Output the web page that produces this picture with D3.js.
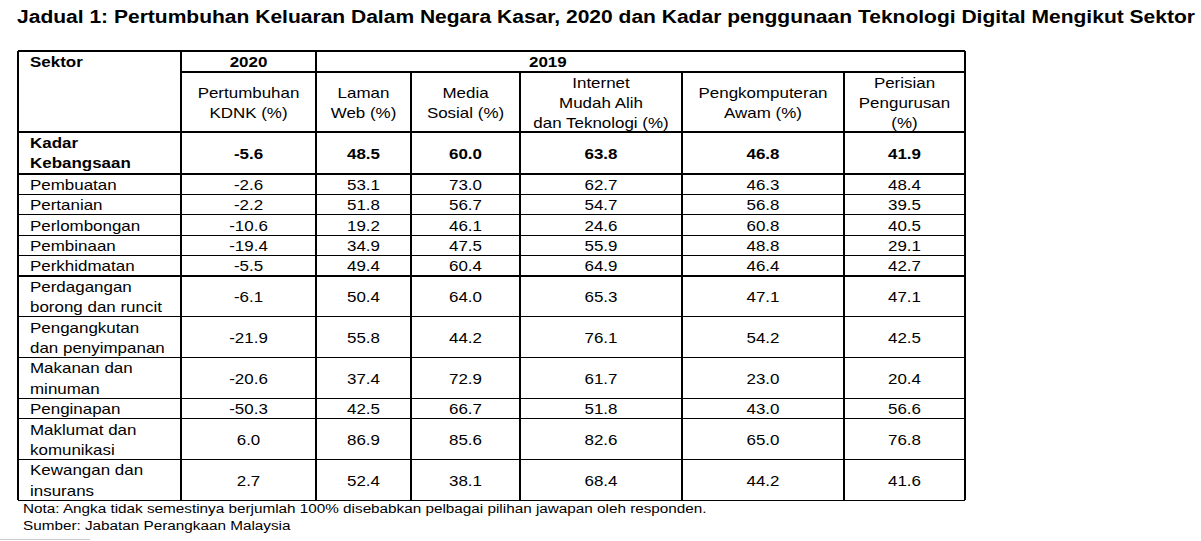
<!DOCTYPE html>
<html>
<head>
<meta charset="utf-8">
<script src="https://cdn.jsdelivr.net/npm/d3@7"></script>
<style>
  html, body { margin: 0; padding: 0; background: #fff; }
  svg { display: block; }
  text { font-family: "Liberation Sans", Arial, sans-serif; fill: #000; }
</style>
</head>
<body>
<svg width="1201" height="541"></svg>
<script>
// table contents
var title = "Jadual 1: Pertumbuhan Keluaran Dalam Negara Kasar, 2020 dan Kadar penggunaan Teknologi Digital Mengikut Sektor";
var yearLabels = ["2020", "2019"];
var colHeaders = [
  ["Pertumbuhan", "KDNK (%)"],
  ["Laman", "Web (%)"],
  ["Media", "Sosial (%)"],
  ["Internet", "Mudah Alih", "dan Teknologi (%)"],
  ["Pengkomputeran", "Awam (%)"],
  ["Perisian", "Pengurusan", "(%)"]
];
var nationalLabel = ["Kadar", "Kebangsaan"];
var nationalValues = [-5.6, 48.5, 60.0, 63.8, 46.8, 41.9];
var sectors = [
  ["Pembuatan"], ["Pertanian"], ["Perlombongan"], ["Pembinaan"], ["Perkhidmatan"],
  ["Perdagangan", "borong dan runcit"], ["Pengangkutan", "dan penyimpanan"],
  ["Makanan dan", "minuman"], ["Penginapan"], ["Maklumat dan", "komunikasi"],
  ["Kewangan dan", "insurans"]
];
var kdnk          = [-2.6, -2.2, -10.6, -19.4, -5.5, -6.1, -21.9, -20.6, -50.3, 6.0, 2.7];
var lamanWeb      = [53.1, 51.8, 19.2, 34.9, 49.4, 50.4, 55.8, 37.4, 42.5, 86.9, 52.4];
var mediaSosial   = [73.0, 56.7, 46.1, 47.5, 60.4, 64.0, 44.2, 72.9, 66.7, 85.6, 38.1];
var internetMudah = [62.7, 54.7, 24.6, 55.9, 64.9, 65.3, 76.1, 61.7, 51.8, 82.6, 68.4];
var pengkomputeran= [46.3, 56.8, 60.8, 48.8, 46.4, 47.1, 54.2, 23.0, 43.0, 65.0, 44.2];
var perisian      = [48.4, 39.5, 40.5, 29.1, 42.7, 47.1, 42.5, 20.4, 56.6, 76.8, 41.6];
var notes = [
  "Nota: Angka tidak semestinya berjumlah 100% disebabkan pelbagai pilihan jawapan oleh responden.",
  "Sumber: Jabatan Perangkaan Malaysia"
];

var series = [kdnk, lamanWeb, mediaSosial, internetMudah, pengkomputeran, perisian];

var svg = d3.select("svg");
var sx = 1.13;     // text in the picture is stretched sideways
var lineH = 20.2;
// plain hyphen for negatives, like the source table
var fmt = d3.formatLocale({ decimal: ".", thousands: ",", grouping: [3], currency: ["", ""], minus: "-" }).format(".1f");

// column edges
var edges = [18, 181, 316, 411, 520, 682, 844, 965];
var colX = d3.scaleOrdinal().domain(d3.range(6)).range(d3.range(6).map(function (i) {
  return (edges[i + 1] + edges[i + 2]) / 2;
}));

// row edges built from line counts
var top0 = 51, yearRowH = 21, headRowH = 60, natRowH = 42, unitH = 20.4;
var rowTops = [top0 + yearRowH + headRowH + natRowH];
sectors.forEach(function (s, i) { rowTops.push(rowTops[i] + unitH * s.length); });
var bottom = rowTops[rowTops.length - 1];

function label(g, x, y, str, opts) {
  opts = opts || {};
  return g.append("text")
    .attr("transform", "translate(" + x + "," + y + ") scale(" + (opts.sx || sx) + ",1)")
    .attr("text-anchor", opts.anchor || "start")
    .style("font-size", (opts.size || 15) + "px")
    .style("font-weight", opts.bold ? "bold" : "normal")
    .text(str);
}

function lines(g, x, cy, arr, opts) {
  arr.forEach(function (s, i) {
    label(g, x, cy - (arr.length - 1) * lineH / 2 + i * lineH + 5.5, s, opts);
  });
}

// title
svg.append("text")
  .attr("x", 17).attr("y", 23)
  .attr("textLength", 1178).attr("lengthAdjust", "spacingAndGlyphs")
  .style("font-size", "18px").style("font-weight", "bold")
  .text(title);

var grid = svg.append("g").attr("stroke", "#000").attr("stroke-width", 1.2).attr("shape-rendering", "crispEdges");
var txt = svg.append("g");

// header
var y1 = top0 + yearRowH, y2 = y1 + headRowH, y3 = y2 + natRowH;
label(txt, 30, top0 + 15.5, "Sektor", { bold: true });
label(txt, colX(0), top0 + 15.5, yearLabels[0], { bold: true, anchor: "middle" });
label(txt, 529, top0 + 15.5, yearLabels[1], { bold: true });
colHeaders.forEach(function (h, i) {
  lines(txt, colX(i), (y1 + y2) / 2 + 0.5, h, { anchor: "middle" });
});

// national row
lines(txt, 30, (y2 + y3) / 2 - 0.5, nationalLabel, { bold: true });
nationalValues.forEach(function (v, i) {
  label(txt, colX(i), (y2 + y3) / 2 + 5.5, fmt(v), { bold: true, anchor: "middle" });
});

// sector rows
sectors.forEach(function (s, r) {
  var cy = (rowTops[r] + rowTops[r + 1]) / 2;
  lines(txt, 30, cy, s);
  series.forEach(function (col, c) {
    label(txt, colX(c), cy + 5.5, fmt(col[r]), { anchor: "middle" });
  });
});

// grid lines
function hline(x1, x2, y) { grid.append("line").attr("x1", x1).attr("x2", x2).attr("y1", y).attr("y2", y); }
function vline(x, ya, yb) { grid.append("line").attr("x1", x).attr("x2", x).attr("y1", ya).attr("y2", yb); }

hline(edges[0], edges[7], top0);
hline(edges[1], edges[7], y1);
[y2, y3].concat(rowTops.slice(1)).forEach(function (y) { hline(edges[0], edges[7], y); });
vline(edges[0], top0, bottom);
vline(edges[1], top0, bottom);
vline(edges[2], top0, bottom);
vline(edges[7], top0, bottom);
[3, 4, 5, 6].forEach(function (i) { vline(edges[i], y1, bottom); });

// notes
label(svg, 23, 513, notes[0], { size: 13.5, sx: 1.133 });
label(svg, 23, 530, notes[1], { size: 13.5, sx: 1.133 });

svg.append("line").attr("x1", 0).attr("x2", 90).attr("y1", 539.5).attr("y2", 539.5)
  .attr("stroke", "#ccc").attr("stroke-width", 1);
</script>
</body>
</html>
